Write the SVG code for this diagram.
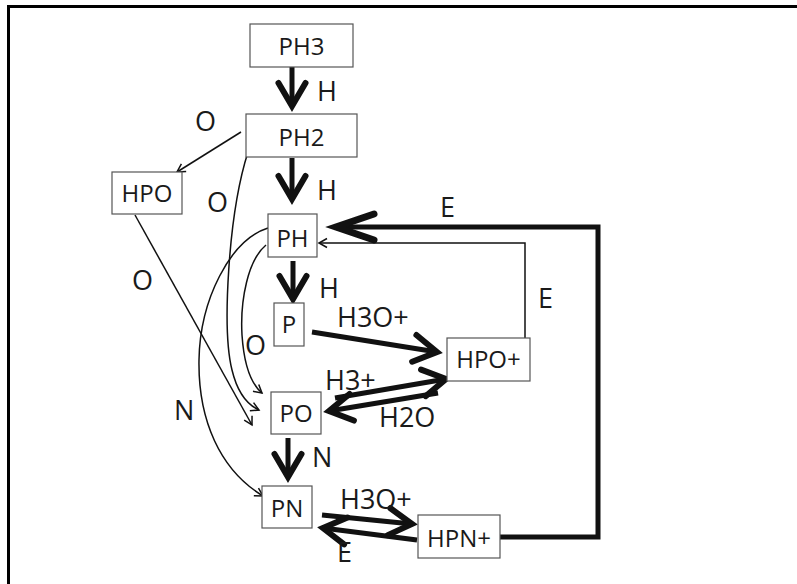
<svg xmlns="http://www.w3.org/2000/svg" width="797" height="584" viewBox="0 0 797 584">
<style>
.node rect{fill:#fff;stroke:#555;stroke-width:1.2}
.node text{font-family:"Open Sans","Liberation Sans",sans-serif;font-size:24px;fill:#1a1a1a;text-anchor:middle}
.lbl{font-family:"Open Sans","Liberation Sans",sans-serif;font-size:27px;fill:#1a1a1a}
.thick{fill:none;stroke:#111;stroke-width:5;marker-end:url(#hd)}
.thin{fill:none;stroke:#111;stroke-width:1.5;marker-end:url(#th)}
</style>
<defs>
<marker id="hd" markerUnits="userSpaceOnUse" orient="auto" overflow="visible" markerWidth="1" markerHeight="1" refX="0" refY="0">
<path d="M-23,-13.5 L0,0 L-23,13.5" fill="none" stroke="#111" stroke-width="6" stroke-linecap="round" stroke-linejoin="miter" stroke-miterlimit="10"/>
</marker>
<marker id="big" markerUnits="userSpaceOnUse" orient="auto" overflow="visible" markerWidth="1" markerHeight="1" refX="0" refY="0">
<path d="M-38,-13 L0,0 L-38,13" fill="none" stroke="#111" stroke-width="7" stroke-linecap="round" stroke-linejoin="miter" stroke-miterlimit="10"/>
</marker>
<marker id="th" markerUnits="userSpaceOnUse" orient="auto" overflow="visible" markerWidth="1" markerHeight="1" refX="0" refY="0">
<path d="M-8,-4.5 L0,0 L-8,4.5" fill="none" stroke="#111" stroke-width="1.5" stroke-linejoin="miter"/>
</marker>
</defs>
<rect width="797" height="584" fill="#fff"/>
<path d="M8.5,584 L8.5,6.5 L797,6.5" fill="none" stroke="#000" stroke-width="3"/>
<g id="connectors">
<path class="thick" d="M292,67 L292,106"/>
<path class="thick" d="M292,158 L292,199"/>
<path class="thick" d="M293,261 L293,299"/>
<path class="thick" d="M288,438 L288,477"/>
<path class="thick" d="M312,332 L437,352"/>
<path class="thick" d="M335,398 L446,379"/>
<path class="thick" d="M438,393 L329,411"/>
<path class="thick" d="M322,515 L412,524"/>
<path class="thick" d="M417,540 L323,528"/>
<path d="M500,537 L598,537 L598,227 L336,227" fill="none" stroke="#111" stroke-width="5" marker-end="url(#big)"/>
<path class="thin" d="M525,338 L525,243 L319,243"/>
<path class="thin" d="M241,132 L177,172"/>
<path class="thin" d="M135,215 L252,425"/>
<path class="thin" d="M248,152 C228,215 222,330 232,370 C238,395 248,405 259,410"/>
<path class="thin" d="M266,245 C248,260 240,300 242,335 C244,365 250,383 262,393"/>
<path class="thin" d="M268,228 C230,240 200,300 199,360 C198,420 220,470 263,496"/>
</g>
<g id="labels">
<text class="lbl" x="317" y="101">H</text>
<text class="lbl" x="195" y="131">O</text>
<text class="lbl" x="317" y="200">H</text>
<text class="lbl" x="207" y="212">O</text>
<text class="lbl" x="440" y="217">E</text>
<text class="lbl" x="538" y="308">E</text>
<text class="lbl" x="319" y="298">H</text>
<text class="lbl" x="337" y="327">H3O+</text>
<text class="lbl" x="245" y="355">O</text>
<text class="lbl" x="325" y="390">H3+</text>
<text class="lbl" x="379" y="427">H2O</text>
<text class="lbl" x="174" y="420">N</text>
<text class="lbl" x="132" y="290">O</text>
<text class="lbl" x="312" y="467">N</text>
<text class="lbl" x="340" y="509">H3O+</text>
<text class="lbl" x="337" y="562">E</text>
</g>
<g id="PH3" class="node"><rect x="250" y="24" width="103" height="43"/><text x="301.5" y="55">PH3</text></g>
<g id="PH2" class="node"><rect x="246" y="114" width="111" height="43"/><text x="301.5" y="146">PH2</text></g>
<g id="HPO" class="node"><rect x="112" y="172" width="70" height="42"/><text x="147" y="202">HPO</text></g>
<g id="PH" class="node"><rect x="268" y="214" width="49" height="43"/><text x="292.5" y="247">PH</text></g>
<g id="P" class="node"><rect x="274" y="303" width="30" height="43"/><text x="289" y="333">P</text></g>
<g id="HPOp" class="node"><rect x="447" y="338" width="83" height="43"/><text x="488.5" y="368">HPO+</text></g>
<g id="PO" class="node"><rect x="271" y="392" width="50" height="42"/><text x="296" y="422">PO</text></g>
<g id="PN" class="node"><rect x="262" y="486" width="50" height="42"/><text x="287" y="517">PN</text></g>
<g id="HPNp" class="node"><rect x="418" y="515" width="82" height="43"/><text x="459" y="547">HPN+</text></g>
</svg>
